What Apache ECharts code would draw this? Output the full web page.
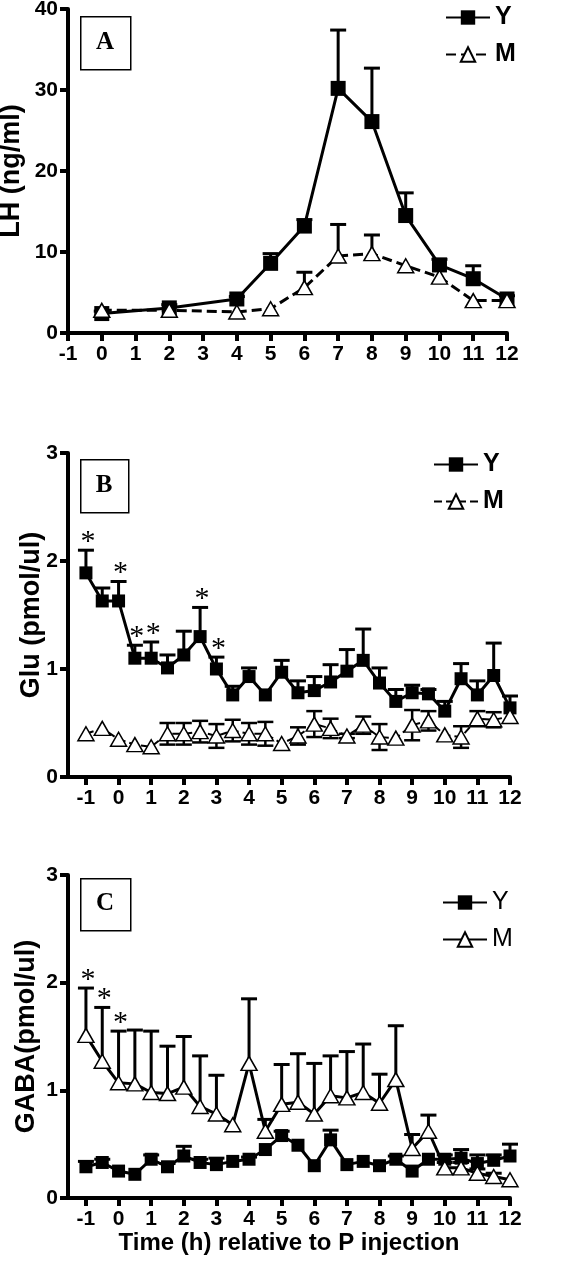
<!DOCTYPE html>
<html><head><meta charset="utf-8">
<script src="https://cdn.jsdelivr.net/npm/echarts@6/dist/echarts.min.js"></script>
<style>html,body{margin:0;padding:0;background:#fff}#c{width:573px;height:1280px}</style>
</head><body><div id="c"></div>
<script>
// ---------- Panel A : LH (ng/ml) ----------
const lhTime = [0, 2, 4, 5, 6, 7, 8, 9, 10, 11, 12];
const lhY    = [2.4, 3.1, 4.2, 8.6, 13.2, 30.2, 26.1, 14.5, 8.4, 6.7, 4.2];
const lhYErr = [0.3, 0.4, 0.3, 1.2, 0.8, 7.2, 6.6, 2.8, 0.7, 1.6, 0.4];
const lhM    = [2.8, 2.8, 2.6, 3.0, 5.6, 9.5, 9.8, 8.3, 6.9, 4.0, 4.0];
const lhMErr = [0, 0, 0, 0, 1.9, 3.9, 2.3, 0, 0, 0, 0];

// ---------- Panel B : Glu (pmol/ul) ----------
const halfHours = [-1,-0.5,0,0.5,1,1.5,2,2.5,3,3.5,4,4.5,5,5.5,6,6.5,7,7.5,8,8.5,9,9.5,10,10.5,11,11.5,12];
const gluY    = [1.89,1.63,1.63,1.10,1.10,1.01,1.13,1.30,1.00,0.76,0.93,0.76,0.97,0.78,0.80,0.88,0.98,1.08,0.87,0.70,0.78,0.77,0.61,0.91,0.76,0.94,0.64];
const gluYErr = [0.21,0.12,0.18,0.12,0.15,0.12,0.22,0.27,0.11,0.08,0.08,0,0.11,0.11,0.13,0.16,0.20,0.29,0.14,0.11,0.07,0.04,0.09,0.14,0.13,0.30,0.11];
const gluM    = [0.40,0.45,0.35,0.30,0.28,0.40,0.40,0.42,0.38,0.43,0.40,0.40,0.31,0.38,0.49,0.45,0.38,0.48,0.37,0.36,0.48,0.52,0.39,0.37,0.54,0.53,0.56];
const gluMErr = [0,0,0,0,0,0.10,0.10,0.10,0.11,0.10,0.10,0.11,0,0.08,0.12,0.09,0.02,0.08,0.12,0,0.14,0.09,0,0.10,0.07,0.07,0];
const gluSig  = [-1, 0, 0.5, 1, 2.5, 3];

// ---------- Panel C : GABA (pmol/ul) ----------
const gabaY    = [0.29,0.33,0.25,0.22,0.36,0.29,0.39,0.33,0.31,0.34,0.36,0.45,0.58,0.49,0.30,0.54,0.31,0.34,0.30,0.36,0.25,0.36,0.36,0.37,0.32,0.35,0.39];
const gabaYErr = [0.05,0.03,0,0,0.04,0.03,0.09,0.03,0.06,0,0.02,0,0.04,0,0,0.09,0,0,0,0.03,0,0,0.04,0.08,0.08,0.05,0.11];
const gabaM    = [1.51,1.27,1.07,1.06,0.98,0.97,1.03,0.85,0.78,0.68,1.25,0.62,0.87,0.89,0.78,0.95,0.93,0.98,0.88,1.10,0.46,0.62,0.28,0.28,0.23,0.20,0.17];
const gabaMErr = [0.44,0.50,0.48,0.50,0.57,0.44,0.47,0.47,0.36,0,0.60,0.11,0.37,0.45,0.47,0.37,0.43,0.45,0.27,0.50,0.13,0.15,0.05,0.05,0.04,0.03,0];
const gabaSig  = [-1, -0.5, 0];

const hourTicks = [-1,0,1,2,3,4,5,6,7,8,9,10,11,12];

// ---------- helpers ----------
const FONT = 'Liberation Sans, Arial, sans-serif';
const pairs = (xs, ys) => xs.map((x, i) => [x, ys[i]]);
const triples = (xs, ys, es) => xs.map((x, i) => [x, ys[i], es[i]]);

function errSeries(data, gi, both, lw) {
  return {
    type: 'custom', xAxisIndex: gi, yAxisIndex: gi, z: 1, clip: false, silent: true,
    data: data, encode: { x: 0, y: 1 },
    renderItem: function (params, api) {
      const x = api.value(0), y = api.value(1), e = api.value(2);
      if (!e) return { type: 'group', children: [] };
      const top = api.coord([x, y + e]);
      const bot = api.coord([x, both ? y - e : y]);
      const cw = 8;
      const st = { stroke: '#000', lineWidth: lw };
      const ch = [
        { type: 'line', shape: { x1: top[0], y1: top[1], x2: bot[0], y2: bot[1] }, style: st },
        { type: 'line', shape: { x1: top[0] - cw, y1: top[1], x2: top[0] + cw, y2: top[1] }, style: st }
      ];
      if (both) ch.push({ type: 'line', shape: { x1: bot[0] - cw, y1: bot[1], x2: bot[0] + cw, y2: bot[1] }, style: st });
      return { type: 'group', children: ch };
    }
  };
}

function sigSeries(sigXs, xs, ys, es, gi) {
  const data = sigXs.map(sx => { const i = xs.indexOf(sx); return [sx, ys[i] + es[i]]; });
  return {
    type: 'custom', xAxisIndex: gi, yAxisIndex: gi, z: 5, clip: false, silent: true,
    data: data, encode: { x: 0, y: 1 },
    renderItem: function (params, api) {
      const p = api.coord([api.value(0), api.value(1)]);
      return { type: 'text', x: p[0] + 2, y: p[1] - 8,
        style: { text: '*', fontSize: 30, fontFamily: 'Liberation Serif, serif', align: 'center', verticalAlign: 'middle', fill: '#000' } };
    }
  };
}

function ySquare(name, data, gi, size) {
  return { name: name, type: 'line', xAxisIndex: gi, yAxisIndex: gi, z: 3, data: data,
    symbol: 'rect', symbolSize: size, showSymbol: true,
    lineStyle: { color: '#000', width: 3 }, itemStyle: { color: '#000', borderColor: '#000', borderWidth: 0 } };
}
function mTri(name, data, gi, dash, lw) {
  return { name: name, type: 'line', xAxisIndex: gi, yAxisIndex: gi, z: 4, data: data,
    symbol: 'triangle', symbolSize: [16, 14], showSymbol: true,
    lineStyle: { color: '#000', width: lw, type: dash },
    itemStyle: { color: '#fff', borderColor: '#000', borderWidth: 1.5 } };
}

const axisLineStyle = { show: true, onZero: false, lineStyle: { color: '#000', width: 4 } };
const tickStyle = { show: true, inside: false, length: 8, lineStyle: { color: '#000', width: 4 } };
const labelStyle = { color: '#000', fontSize: 21, fontWeight: 'bold', fontFamily: FONT };

function xAxisCfg(gi, min, withName) {
  const ax = { type: 'value', gridIndex: gi, min: min, max: 12, splitLine: { show: false },
    axisLine: axisLineStyle, axisTick: Object.assign({}, tickStyle),
    axisLabel: Object.assign({ margin: 11 }, labelStyle) };
  if (min === -1) { ax.interval = 1; }
  else { ax.axisTick.customValues = hourTicks; ax.axisLabel.customValues = hourTicks; }
  if (withName) {
    ax.name = 'Time (h) relative to P injection'; ax.nameLocation = 'middle'; ax.nameGap = 32;
    ax.nameTextStyle = { color: '#000', fontSize: 24, fontWeight: 'bold', fontFamily: FONT };
  }
  return ax;
}
function yAxisCfg(gi, max, interval, name, gap) {
  return { type: 'value', gridIndex: gi, min: 0, max: max, interval: interval, splitLine: { show: false },
    axisLine: axisLineStyle, axisTick: tickStyle, axisLabel: Object.assign({ margin: 10 }, labelStyle),
    name: name, nameLocation: 'middle', nameGap: gap, nameMoveOverlap: false,
    nameTextStyle: { color: '#000', fontSize: 27, fontWeight: 'bold', fontFamily: FONT } };
}
function legendCfg(names, left, top, bold) {
  return { data: names, orient: 'vertical', left: left, top: top, itemWidth: 44, itemHeight: 18, itemGap: 12,
    selectedMode: false, formatter: n => n.trim(),
    textStyle: { color: '#000', fontSize: 25, fontWeight: bold ? 'bold' : 'normal', fontFamily: FONT } };
}
function boxLabel(txt, x, y, w, h) {
  return [
    { type: 'rect', left: x, top: y, shape: { width: w, height: h }, style: { fill: '#fff', stroke: '#000', lineWidth: 1.5 }, z: 10 },
    { type: 'text', x: x + w / 2, y: y + h / 2, z: 11,
      style: { text: txt, fontSize: 25, fontWeight: 'bold', fontFamily: 'Liberation Serif, serif', fill: '#000', align: 'center', verticalAlign: 'middle' } }
  ];
}

const option = {
  backgroundColor: '#fff',
  animation: false,
  grid: [
    { left: 68, top: 9, width: 439, height: 324, outerBoundsMode: 'none', containLabel: false },
    { left: 68, top: 453, width: 442, height: 324, outerBoundsMode: 'none', containLabel: false },
    { left: 68, top: 875, width: 442, height: 323, outerBoundsMode: 'none', containLabel: false }
  ],
  xAxis: [ xAxisCfg(0, -1, false), xAxisCfg(1, -1.55, false), xAxisCfg(2, -1.55, true) ],
  yAxis: [
    yAxisCfg(0, 40, 10, 'LH (ng/ml)', 43),
    yAxisCfg(1, 3, 1, 'Glu (pmol/ul)', 23),
    yAxisCfg(2, 3, 1, 'GABA(pmol/ul)', 28)
  ],
  legend: [
    legendCfg(['Y', 'M'], 440, 0, true),
    legendCfg(['Y ', 'M '], 428, 447, true),
    legendCfg(['Y  ', 'M  '], 437, 885, false)
  ],
  graphic: [].concat(boxLabel('A', 80, 16, 50, 53), boxLabel('B', 80, 459, 48, 53), boxLabel('C', 80, 878, 50, 52)),
  series: [
    errSeries(triples(lhTime, lhY, lhYErr), 0, false, 3),
    errSeries(triples(lhTime, lhM, lhMErr), 0, false, 3),
    ySquare('Y', pairs(lhTime, lhY), 0, 15),
    mTri('M', pairs(lhTime, lhM), 0, [10, 5], 3),

    errSeries(triples(halfHours, gluY, gluYErr), 1, false, 3),
    errSeries(triples(halfHours, gluM, gluMErr), 1, true, 2.5),
    ySquare('Y ', pairs(halfHours, gluY), 1, 13),
    mTri('M ', pairs(halfHours, gluM), 1, [8, 4], 2),
    sigSeries(gluSig, halfHours, gluY, gluYErr, 1),

    errSeries(triples(halfHours, gabaY, gabaYErr), 2, false, 3),
    errSeries(triples(halfHours, gabaM, gabaMErr), 2, false, 3),
    ySquare('Y  ', pairs(halfHours, gabaY), 2, 13),
    mTri('M  ', pairs(halfHours, gabaM), 2, 'solid', 3),
    sigSeries(gabaSig, halfHours, gabaM, gabaMErr, 2)
  ]
};
const chart = echarts.init(document.getElementById('c'), null, { renderer: 'canvas' });
chart.setOption(option);
</script>
</body></html>
